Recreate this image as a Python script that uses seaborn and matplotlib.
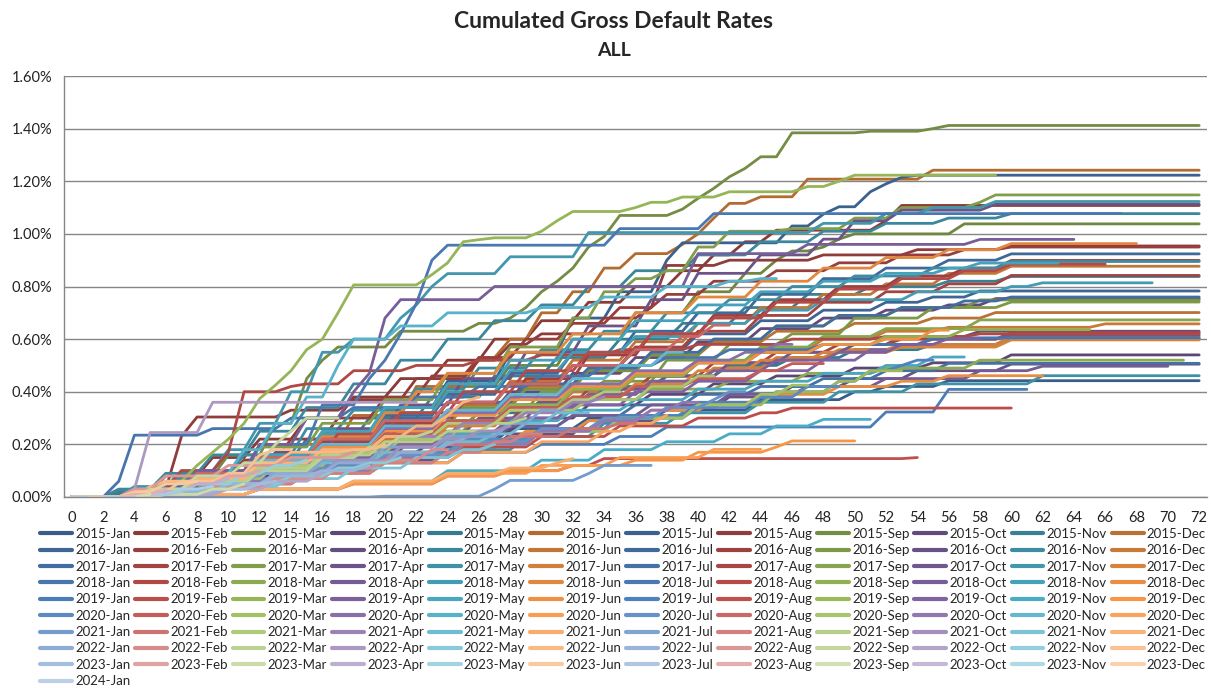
import numpy as np
import pandas as pd
import matplotlib
matplotlib.use("Agg")
import matplotlib.pyplot as plt
import matplotlib.colors as mcolors
from matplotlib.lines import Line2D
from matplotlib.ticker import FuncFormatter, MultipleLocator
import seaborn as sns

# cumulated gross default rate (%) per vintage, as (month, level) steps;
# the level holds until the next step, the last step marks the last observed month
years = [2015, 2016, 2017, 2018, 2019, 2020, 2021, 2022, 2023, 2024]
months = ["Jan", "Feb", "Mar", "Apr", "May", "Jun", "Jul", "Aug", "Sep", "Oct", "Nov", "Dec"]

vint_2015 = [
    [(0, 0), (4, 0.02), (7, 0.05), (11, 0.09), (15, 0.13), (19, 0.17), (23, 0.21), (28, 0.26), (33, 0.30), (38, 0.33), (44, 0.37), (50, 0.40), (52, 0.42), (56, 0.442), (72, 0.442)],
    [(0, 0), (3, 0.02), (6, 0.08), (9, 0.15), (12, 0.22), (15, 0.30), (18, 0.38), (21, 0.45), (24, 0.52), (27, 0.60), (30, 0.67), (33, 0.74), (36, 0.80), (39, 0.86), (41, 0.92), (43, 0.97), (45, 1.014), (52, 1.05), (53, 1.108), (72, 1.108)],
    [(0, 0), (4, 0.03), (8, 0.08), (12, 0.16), (16, 0.24), (20, 0.32), (24, 0.42), (28, 0.50), (32, 0.60), (36, 0.70), (40, 0.78), (43, 0.85), (45, 0.90), (46, 0.935), (48, 0.95), (49, 0.98), (50, 1.00), (57, 1.038), (72, 1.038)],
    [(0, 0), (5, 0.02), (9, 0.06), (13, 0.10), (17, 0.15), (21, 0.20), (25, 0.25), (29, 0.30), (33, 0.35), (37, 0.39), (41, 0.43), (45, 0.46), (50, 0.49), (55, 0.51), (60, 0.54), (72, 0.54)],
    [(0, 0), (3, 0.01), (6, 0.04), (10, 0.09), (14, 0.15), (18, 0.21), (22, 0.27), (26, 0.32), (30, 0.37), (34, 0.42), (38, 0.46), (42, 0.50), (46, 0.53), (50, 0.56), (55, 0.58), (60, 0.602), (72, 0.602)],
    [(0, 0), (4, 0.02), (6, 0.05), (10, 0.10), (14, 0.20), (18, 0.31), (22, 0.42), (26, 0.53), (28, 0.60), (30, 0.70), (32, 0.78), (34, 0.87), (36, 0.925), (39, 0.96), (40, 1.00), (41, 1.06), (42, 1.116), (44, 1.141), (47, 1.208), (55, 1.242), (72, 1.242)],
    [(0, 0), (4, 0.02), (8, 0.07), (12, 0.14), (16, 0.24), (20, 0.34), (24, 0.44), (28, 0.55), (32, 0.68), (35, 0.78), (38, 0.90), (39, 0.966), (46, 1.03), (48, 1.075), (49, 1.103), (51, 1.16), (52, 1.19), (53, 1.215), (54, 1.223), (72, 1.223)],
    [(0, 0), (5, 0.03), (7, 0.23), (8, 0.304), (14, 0.33), (18, 0.37), (22, 0.45), (26, 0.52), (28, 0.58), (30, 0.62), (34, 0.68), (37, 0.72), (38, 0.88), (42, 0.90), (48, 0.92), (54, 0.94), (60, 0.954), (72, 0.954)],
    [(0, 0), (4, 0.03), (7, 0.08), (10, 0.16), (13, 0.28), (15, 0.45), (16, 0.52), (17, 0.57), (21, 0.63), (26, 0.66), (28, 0.68), (29, 0.72), (30, 0.78), (31, 0.82), (32, 0.87), (33, 0.95), (34, 0.99), (35, 1.07), (39, 1.094), (40, 1.135), (41, 1.173), (42, 1.217), (43, 1.249), (44, 1.293), (46, 1.384), (51, 1.39), (55, 1.40), (56, 1.412), (72, 1.412)],
    [(0, 0), (4, 0.02), (8, 0.06), (12, 0.12), (16, 0.19), (20, 0.26), (24, 0.33), (28, 0.40), (32, 0.47), (36, 0.53), (40, 0.59), (44, 0.64), (48, 0.68), (52, 0.71), (56, 0.73), (59, 0.754), (72, 0.754)],
    [(0, 0), (3, 0.02), (7, 0.07), (11, 0.14), (15, 0.22), (19, 0.30), (23, 0.38), (27, 0.46), (31, 0.53), (35, 0.60), (39, 0.66), (43, 0.72), (47, 0.77), (51, 0.80), (56, 0.82), (60, 0.838), (72, 0.838)],
    [(0, 0), (5, 0.03), (9, 0.08), (13, 0.14), (17, 0.21), (21, 0.28), (25, 0.35), (29, 0.42), (33, 0.48), (37, 0.54), (41, 0.59), (45, 0.63), (50, 0.66), (55, 0.68), (59, 0.701), (72, 0.701)],
]

vint_2016 = [
    [(0, 0), (4, 0.03), (8, 0.09), (12, 0.15), (16, 0.22), (20, 0.29), (24, 0.36), (28, 0.43), (32, 0.50), (36, 0.56), (40, 0.62), (44, 0.67), (48, 0.71), (52, 0.74), (55, 0.76), (58, 0.783), (72, 0.783)],
    [(0, 0), (4, 0.02), (8, 0.08), (11, 0.14), (14, 0.22), (17, 0.30), (20, 0.38), (23, 0.46), (26, 0.53), (29, 0.60), (32, 0.66), (35, 0.72), (38, 0.77), (41, 0.82), (45, 0.86), (49, 0.89), (53, 0.92), (57, 0.94), (60, 0.950), (72, 0.950)],
    [(0, 0), (5, 0.03), (9, 0.08), (13, 0.14), (17, 0.20), (21, 0.27), (25, 0.34), (29, 0.41), (33, 0.48), (37, 0.54), (41, 0.60), (45, 0.65), (49, 0.69), (53, 0.72), (58, 0.749), (72, 0.749)],
    [(0, 0), (4, 0.02), (8, 0.06), (12, 0.11), (16, 0.17), (20, 0.23), (24, 0.29), (28, 0.35), (32, 0.41), (36, 0.46), (40, 0.51), (44, 0.55), (48, 0.58), (53, 0.61), (58, 0.630), (72, 0.630)],
    [(0, 0), (3, 0.03), (6, 0.09), (9, 0.16), (12, 0.25), (15, 0.34), (18, 0.43), (21, 0.52), (24, 0.60), (27, 0.67), (30, 0.73), (33, 0.80), (36, 0.86), (40, 0.92), (44, 0.97), (48, 1.01), (52, 1.04), (56, 1.06), (60, 1.077), (72, 1.077)],
    [(0, 0), (4, 0.02), (8, 0.07), (12, 0.13), (16, 0.20), (20, 0.28), (24, 0.36), (28, 0.44), (32, 0.52), (36, 0.59), (40, 0.66), (44, 0.72), (48, 0.77), (52, 0.81), (56, 0.85), (60, 0.877), (72, 0.877)],
    [(0, 0), (4, 0.03), (8, 0.08), (12, 0.15), (16, 0.23), (20, 0.31), (24, 0.39), (28, 0.47), (32, 0.55), (36, 0.63), (40, 0.70), (44, 0.77), (48, 0.83), (52, 0.87), (56, 0.90), (60, 0.924), (72, 0.924)],
    [(0, 0), (5, 0.02), (9, 0.07), (13, 0.13), (17, 0.20), (21, 0.28), (25, 0.36), (29, 0.45), (33, 0.54), (37, 0.62), (41, 0.69), (45, 0.75), (49, 0.80), (53, 0.84), (57, 0.87), (60, 0.899), (72, 0.899)],
    [(0, 0), (6, 0.04), (10, 0.10), (14, 0.12), (18, 0.22), (22, 0.25), (26, 0.33), (30, 0.40), (34, 0.44), (38, 0.52), (42, 0.58), (46, 0.62), (50, 0.68), (55, 0.72), (60, 0.741), (72, 0.741)],
    [(0, 0), (5, 0.02), (10, 0.05), (14, 0.09), (19, 0.14), (24, 0.19), (28, 0.24), (33, 0.29), (38, 0.34), (42, 0.38), (46, 0.42), (50, 0.45), (54, 0.48), (60, 0.505), (72, 0.505)],
    [(0, 0), (4, 0.03), (7, 0.08), (11, 0.16), (15, 0.26), (18, 0.33), (22, 0.41), (26, 0.49), (30, 0.56), (34, 0.63), (38, 0.70), (42, 0.75), (46, 0.80), (50, 0.84), (55, 0.87), (60, 0.895), (72, 0.895)],
    [(0, 0), (4, 0.01), (8, 0.05), (12, 0.10), (16, 0.16), (20, 0.22), (24, 0.28), (28, 0.34), (32, 0.40), (36, 0.46), (40, 0.51), (44, 0.56), (48, 0.60), (52, 0.63), (56, 0.645), (66, 0.658), (72, 0.658)],
]

vint_2017 = [
    [(0, 0), (5, 0.04), (9, 0.10), (13, 0.16), (17, 0.23), (21, 0.30), (25, 0.36), (29, 0.43), (33, 0.49), (37, 0.55), (41, 0.60), (45, 0.65), (49, 0.69), (53, 0.72), (57, 0.745), (60, 0.760), (72, 0.760)],
    [(0, 0), (4, 0.02), (8, 0.07), (12, 0.14), (16, 0.21), (20, 0.28), (24, 0.36), (28, 0.43), (32, 0.50), (36, 0.57), (40, 0.63), (44, 0.69), (48, 0.74), (52, 0.78), (56, 0.81), (60, 0.842), (72, 0.842)],
    [(0, 0), (4, 0.03), (8, 0.10), (12, 0.19), (16, 0.28), (20, 0.37), (24, 0.47), (28, 0.57), (32, 0.68), (34, 0.78), (36, 0.83), (38, 0.86), (40, 0.95), (42, 1.01), (46, 1.02), (50, 1.06), (53, 1.10), (58, 1.12), (59, 1.148), (72, 1.148)],
    [(0, 0), (5, 0.03), (9, 0.09), (13, 0.17), (17, 0.26), (21, 0.35), (25, 0.45), (29, 0.55), (33, 0.65), (37, 0.75), (40, 0.85), (44, 0.92), (48, 0.98), (50, 1.05), (53, 1.09), (59, 1.113), (72, 1.113)],
    [(0, 0), (4, 0.02), (9, 0.05), (14, 0.09), (19, 0.13), (24, 0.18), (29, 0.23), (34, 0.28), (39, 0.32), (44, 0.36), (49, 0.40), (54, 0.43), (62, 0.461), (72, 0.461)],
    [(0, 0), (5, 0.03), (9, 0.07), (13, 0.12), (17, 0.17), (21, 0.22), (25, 0.28), (29, 0.34), (33, 0.39), (37, 0.44), (41, 0.49), (45, 0.53), (49, 0.56), (53, 0.58), (60, 0.610), (72, 0.610)],
    [(0, 0), (4, 0.02), (8, 0.05), (12, 0.09), (16, 0.13), (20, 0.17), (24, 0.22), (28, 0.27), (32, 0.31), (36, 0.35), (40, 0.39), (44, 0.42), (48, 0.45), (52, 0.48), (56, 0.508), (72, 0.508)],
    [(0, 0), (5, 0.03), (9, 0.07), (13, 0.12), (17, 0.17), (21, 0.23), (25, 0.29), (29, 0.35), (33, 0.41), (37, 0.46), (41, 0.51), (45, 0.55), (49, 0.58), (53, 0.60), (60, 0.625), (72, 0.625)],
    [(0, 0), (4, 0.02), (8, 0.06), (12, 0.11), (16, 0.17), (20, 0.23), (24, 0.29), (28, 0.35), (32, 0.41), (36, 0.47), (40, 0.52), (44, 0.57), (48, 0.61), (52, 0.64), (58, 0.673), (72, 0.673)],
    [(0, 0), (5, 0.02), (10, 0.07), (14, 0.12), (18, 0.18), (22, 0.24), (26, 0.30), (30, 0.36), (34, 0.41), (38, 0.46), (42, 0.51), (46, 0.55), (50, 0.58), (55, 0.60), (60, 0.615), (72, 0.615)],
    [(0, 0), (4, 0.04), (7, 0.10), (10, 0.18), (12, 0.28), (14, 0.40), (16, 0.55), (18, 0.60), (21, 0.68), (22, 0.73), (23, 0.80), (24, 0.849), (28, 0.913), (33, 1.005), (48, 1.04), (52, 1.077), (55, 1.10), (59, 1.123), (72, 1.123)],
    [(0, 0), (4, 0.02), (8, 0.06), (12, 0.11), (16, 0.16), (20, 0.21), (24, 0.27), (28, 0.33), (32, 0.38), (36, 0.43), (40, 0.48), (44, 0.52), (48, 0.55), (53, 0.57), (60, 0.597), (72, 0.597)],
]

vint_2018 = [
    [(0, 0), (3, 0.06), (4, 0.235), (9, 0.26), (14, 0.30), (18, 0.34), (22, 0.38), (26, 0.42), (30, 0.46), (34, 0.50), (38, 0.53), (42, 0.56), (48, 0.58), (55, 0.605), (72, 0.605)],
    [(0, 0), (4, 0.03), (7, 0.10), (10, 0.17), (11, 0.40), (14, 0.42), (15, 0.43), (18, 0.48), (22, 0.50), (26, 0.52), (30, 0.54), (35, 0.56), (40, 0.58), (46, 0.60), (52, 0.61), (58, 0.620), (72, 0.620)],
    [(0, 0), (5, 0.03), (9, 0.08), (13, 0.13), (17, 0.18), (21, 0.23), (25, 0.28), (29, 0.33), (33, 0.37), (37, 0.41), (42, 0.44), (47, 0.47), (52, 0.49), (58, 0.52), (71, 0.52)],
    [(0, 0), (4, 0.02), (8, 0.06), (12, 0.10), (16, 0.14), (20, 0.19), (24, 0.23), (28, 0.27), (32, 0.31), (37, 0.35), (42, 0.39), (47, 0.42), (52, 0.45), (58, 0.48), (62, 0.497), (70, 0.497)],
    [(0, 0), (4, 0.03), (8, 0.09), (12, 0.16), (16, 0.24), (20, 0.32), (24, 0.40), (28, 0.48), (32, 0.55), (36, 0.61), (40, 0.66), (44, 0.71), (48, 0.75), (54, 0.78), (60, 0.80), (62, 0.814), (69, 0.814)],
    [(0, 0), (4, 0.02), (8, 0.08), (12, 0.15), (16, 0.23), (20, 0.32), (22, 0.40), (24, 0.47), (28, 0.55), (32, 0.62), (36, 0.70), (40, 0.76), (44, 0.82), (48, 0.87), (52, 0.91), (56, 0.94), (60, 0.963), (68, 0.963)],
    [(0, 0), (4, 0.02), (8, 0.08), (12, 0.20), (16, 0.35), (19, 0.45), (20, 0.52), (21, 0.62), (22, 0.735), (23, 0.90), (24, 0.957), (35, 1.02), (41, 1.077), (67, 1.077)],
    [(0, 0), (5, 0.03), (9, 0.09), (13, 0.16), (17, 0.24), (21, 0.32), (25, 0.40), (29, 0.48), (33, 0.55), (37, 0.62), (41, 0.68), (45, 0.74), (49, 0.79), (53, 0.83), (57, 0.86), (60, 0.885), (66, 0.885)],
    [(0, 0), (4, 0.02), (8, 0.06), (12, 0.11), (16, 0.17), (20, 0.23), (24, 0.29), (28, 0.35), (32, 0.41), (36, 0.46), (40, 0.51), (44, 0.55), (48, 0.58), (52, 0.61), (57, 0.636), (65, 0.636)],
    [(0, 0), (4, 0.03), (8, 0.10), (12, 0.20), (15, 0.30), (18, 0.40), (19, 0.47), (20, 0.68), (21, 0.75), (27, 0.80), (40, 0.925), (47, 0.96), (58, 0.979), (64, 0.979)],
    [(0, 0), (4, 0.03), (8, 0.08), (12, 0.16), (16, 0.25), (20, 0.34), (24, 0.43), (28, 0.52), (32, 0.60), (36, 0.67), (40, 0.73), (44, 0.78), (48, 0.82), (52, 0.85), (56, 0.87), (58, 0.889), (63, 0.889)],
    [(0, 0), (5, 0.02), (9, 0.05), (13, 0.09), (17, 0.13), (21, 0.17), (25, 0.21), (29, 0.25), (33, 0.29), (37, 0.33), (41, 0.36), (45, 0.39), (49, 0.42), (53, 0.44), (56, 0.461), (62, 0.461)],
]

vint_2019 = [
    [(0, 0), (5, 0.02), (10, 0.05), (15, 0.09), (20, 0.13), (25, 0.17), (30, 0.20), (35, 0.23), (38, 0.266), (52, 0.323), (56, 0.409), (61, 0.409)],
    [(0, 0), (5, 0.02), (10, 0.06), (15, 0.10), (20, 0.15), (25, 0.19), (30, 0.23), (35, 0.27), (40, 0.30), (44, 0.32), (46, 0.338), (60, 0.338)],
    [(0, 0), (4, 0.02), (6, 0.06), (8, 0.12), (9, 0.17), (10, 0.22), (11, 0.28), (12, 0.374), (13, 0.425), (14, 0.48), (15, 0.56), (16, 0.60), (17, 0.70), (18, 0.806), (23, 0.845), (24, 0.89), (25, 0.97), (26, 0.978), (27, 0.985), (30, 1.01), (31, 1.05), (32, 1.085), (36, 1.10), (37, 1.12), (39, 1.14), (42, 1.16), (47, 1.18), (49, 1.20), (50, 1.223), (59, 1.223)],
    [(0, 0), (5, 0.02), (9, 0.07), (13, 0.12), (17, 0.17), (21, 0.22), (25, 0.28), (29, 0.34), (33, 0.39), (37, 0.44), (41, 0.48), (45, 0.52), (49, 0.55), (53, 0.58), (56, 0.602), (58, 0.602)],
    [(0, 0), (4, 0.02), (8, 0.06), (12, 0.10), (16, 0.15), (20, 0.19), (24, 0.24), (28, 0.29), (32, 0.33), (36, 0.37), (40, 0.41), (44, 0.44), (48, 0.47), (52, 0.50), (55, 0.532), (57, 0.532)],
    [(0, 0), (4, 0.03), (8, 0.08), (12, 0.13), (16, 0.19), (20, 0.25), (24, 0.31), (28, 0.37), (32, 0.42), (36, 0.47), (40, 0.51), (44, 0.55), (48, 0.58), (52, 0.60), (55, 0.634), (56, 0.634)],
    [(0, 0), (5, 0.02), (10, 0.06), (15, 0.11), (20, 0.16), (25, 0.21), (30, 0.26), (35, 0.31), (40, 0.36), (45, 0.40), (49, 0.44), (51, 0.48), (53, 0.50), (54, 0.520), (55, 0.520)],
    [(0, 0), (6, 0.01), (12, 0.03), (18, 0.05), (24, 0.08), (28, 0.10), (32, 0.12), (34, 0.146), (54, 0.150)],
    [(0, 0), (5, 0.02), (10, 0.06), (15, 0.10), (20, 0.15), (25, 0.20), (30, 0.25), (35, 0.30), (40, 0.35), (45, 0.40), (49, 0.44), (51, 0.48), (53, 0.48)],
    [(0, 0), (4, 0.02), (8, 0.06), (12, 0.10), (16, 0.15), (20, 0.20), (24, 0.25), (28, 0.30), (32, 0.35), (36, 0.40), (40, 0.44), (44, 0.48), (48, 0.52), (51, 0.560), (52, 0.560)],
    [(0, 0), (6, 0.01), (12, 0.03), (18, 0.06), (24, 0.10), (30, 0.14), (34, 0.18), (38, 0.21), (42, 0.24), (45, 0.27), (48, 0.295), (51, 0.295)],
    [(0, 0), (6, 0.01), (12, 0.03), (18, 0.05), (24, 0.08), (28, 0.10), (32, 0.12), (36, 0.14), (40, 0.17), (45, 0.19), (46, 0.213), (50, 0.213)],
]

vint_2020 = [
    [(0, 0), (5, 0.03), (10, 0.07), (15, 0.12), (20, 0.17), (25, 0.22), (30, 0.26), (35, 0.30), (40, 0.34), (44, 0.38), (47, 0.42), (49, 0.42)],
    [(0, 0), (4, 0.03), (8, 0.08), (12, 0.13), (16, 0.18), (20, 0.24), (24, 0.29), (28, 0.34), (32, 0.38), (36, 0.42), (40, 0.45), (44, 0.48), (46, 0.507), (48, 0.507)],
    [(0, 0), (5, 0.02), (10, 0.06), (15, 0.10), (20, 0.15), (25, 0.20), (30, 0.25), (35, 0.30), (40, 0.35), (44, 0.39), (46, 0.425), (47, 0.425)],
    [(0, 0), (4, 0.03), (8, 0.08), (12, 0.14), (16, 0.20), (20, 0.26), (24, 0.32), (28, 0.38), (32, 0.43), (36, 0.48), (40, 0.52), (43, 0.55), (45, 0.58), (46, 0.58)],
    [(0, 0), (4, 0.03), (8, 0.09), (11, 0.18), (13, 0.28), (15, 0.38), (17, 0.50), (18, 0.60), (21, 0.65), (24, 0.70), (30, 0.72), (34, 0.76), (38, 0.80), (42, 0.82), (44, 0.830), (45, 0.830)],
    [(0, 0), (6, 0.01), (12, 0.03), (18, 0.06), (24, 0.09), (30, 0.12), (35, 0.15), (41, 0.181), (44, 0.181)],
    [(0, 0), (5, 0.02), (10, 0.06), (15, 0.11), (20, 0.16), (25, 0.21), (30, 0.26), (34, 0.30), (38, 0.34), (41, 0.37), (42, 0.40), (43, 0.40)],
    [(0, 0), (4, 0.03), (8, 0.09), (12, 0.15), (16, 0.22), (20, 0.29), (24, 0.36), (28, 0.43), (32, 0.50), (36, 0.56), (39, 0.61), (41, 0.653), (42, 0.653)],
    [(0, 0), (5, 0.03), (9, 0.07), (13, 0.12), (17, 0.17), (21, 0.22), (25, 0.28), (29, 0.33), (33, 0.37), (37, 0.42), (40, 0.46), (41, 0.46)],
    [(0, 0), (5, 0.02), (10, 0.06), (15, 0.10), (20, 0.15), (25, 0.20), (30, 0.25), (34, 0.29), (37, 0.33), (39, 0.36), (40, 0.36)],
    [(0, 0), (4, 0.03), (8, 0.08), (12, 0.14), (16, 0.20), (20, 0.27), (24, 0.33), (28, 0.39), (32, 0.45), (35, 0.50), (38, 0.55), (39, 0.55)],
    [(0, 0), (5, 0.02), (10, 0.05), (15, 0.09), (20, 0.13), (25, 0.17), (30, 0.21), (34, 0.25), (36, 0.28), (38, 0.311)],
]

vint_2021 = [
    [(0, 0), (20, 0.003), (27, 0.03), (28, 0.063), (33, 0.089), (34, 0.12), (37, 0.12)],
    [(0, 0), (4, 0.02), (8, 0.05), (12, 0.09), (16, 0.13), (20, 0.17), (24, 0.20), (28, 0.23), (32, 0.26), (35, 0.28), (36, 0.28)],
    [(0, 0), (4, 0.02), (8, 0.07), (12, 0.12), (16, 0.18), (20, 0.23), (24, 0.28), (28, 0.33), (32, 0.37), (34, 0.40), (35, 0.40)],
    [(0, 0), (5, 0.03), (9, 0.08), (13, 0.13), (17, 0.18), (21, 0.23), (25, 0.28), (29, 0.32), (32, 0.36), (34, 0.38)],
    [(0, 0), (4, 0.02), (8, 0.05), (12, 0.09), (16, 0.13), (20, 0.17), (24, 0.21), (27, 0.24), (29, 0.28), (31, 0.32), (33, 0.32)],
    [(0, 0), (6, 0.01), (12, 0.03), (18, 0.06), (24, 0.09), (28, 0.11), (31, 0.13), (32, 0.146)],
    [(0, 0), (4, 0.02), (8, 0.05), (12, 0.09), (16, 0.14), (20, 0.19), (24, 0.23), (28, 0.28), (30, 0.33), (31, 0.33)],
    [(0, 0), (5, 0.02), (10, 0.05), (15, 0.09), (20, 0.13), (24, 0.17), (27, 0.21), (29, 0.24), (30, 0.24)],
    [(0, 0), (4, 0.02), (8, 0.06), (12, 0.11), (16, 0.16), (20, 0.21), (24, 0.25), (27, 0.28), (29, 0.30)],
    [(0, 0), (5, 0.02), (9, 0.05), (13, 0.09), (17, 0.14), (21, 0.19), (24, 0.22), (26, 0.25), (28, 0.27)],
    [(0, 0), (6, 0.01), (10, 0.04), (14, 0.07), (18, 0.11), (22, 0.15), (25, 0.18), (27, 0.20)],
    [(0, 0), (4, 0.02), (8, 0.07), (12, 0.13), (16, 0.18), (20, 0.23), (22, 0.27), (24, 0.31), (25, 0.36), (26, 0.38)],
]

vint_2022 = [
    [(0, 0), (5, 0.02), (9, 0.05), (13, 0.09), (17, 0.13), (21, 0.17), (24, 0.20), (25, 0.22)],
    [(0, 0), (5, 0.01), (9, 0.04), (13, 0.07), (17, 0.11), (20, 0.14), (23, 0.18), (24, 0.18)],
    [(0, 0), (4, 0.02), (8, 0.05), (12, 0.10), (16, 0.15), (19, 0.19), (21, 0.23), (23, 0.25)],
    [(0, 0), (4, 0.03), (5, 0.245), (9, 0.36), (22, 0.36)],
    [(0, 0), (6, 0.02), (10, 0.05), (14, 0.08), (17, 0.11), (19, 0.13), (21, 0.15)],
    [(0, 0), (5, 0.04), (6, 0.06), (10, 0.08), (12, 0.13), (14, 0.17), (18, 0.18), (20, 0.20)],
    [(0, 0), (6, 0.02), (10, 0.05), (13, 0.08), (16, 0.10), (19, 0.12)],
    [(0, 0), (4, 0.03), (6, 0.08), (10, 0.12), (14, 0.15), (18, 0.17)],
    [(0, 0), (5, 0.03), (8, 0.08), (11, 0.13), (13, 0.20), (14, 0.25), (15, 0.30), (17, 0.30)],
    [(0, 0), (6, 0.01), (10, 0.03), (13, 0.06), (16, 0.09)],
    [(0, 0), (5, 0.02), (8, 0.05), (11, 0.09), (13, 0.12), (15, 0.14)],
    [(0, 0), (5, 0.02), (7, 0.06), (10, 0.09), (12, 0.16), (13, 0.18), (14, 0.18)],
]

vint_2023 = [
    [(0, 0), (6, 0.01), (9, 0.03), (12, 0.05), (13, 0.06)],
    [(0, 0), (5, 0.02), (8, 0.05), (10, 0.08), (12, 0.10)],
    [(0, 0), (6, 0.01), (9, 0.03), (11, 0.05)],
    [(0, 0), (5, 0.02), (8, 0.05), (10, 0.07)],
    [(0, 0), (5, 0.01), (7, 0.03), (9, 0.04)],
    [(0, 0), (4, 0.02), (6, 0.05), (8, 0.06)],
    [(0, 0), (5, 0.01), (7, 0.02)],
    [(0, 0), (4, 0.01), (6, 0.03)],
    [(0, 0), (5, 0.01)],
    [(0, 0), (4, 0.0)],
    [(0, 0), (3, 0.0)],
    [(0, 0), (2, 0.0)],
]

vint_2024 = [
    [(0, 0), (1, 0.0)],
]

all_vintages = vint_2015 + vint_2016 + vint_2017 + vint_2018 + vint_2019 + vint_2020 + vint_2021 + vint_2022 + vint_2023 + vint_2024
labels = [f"{y}-{m}" for y in years for m in months][:len(all_vintages)]


def expand(knots):
    end = knots[-1][0]
    out = []
    j = 0
    for m in range(end + 1):
        while j + 1 < len(knots) and knots[j + 1][0] <= m:
            j += 1
        out.append(knots[j][1])
    return out


rows = []
for lab, knots in zip(labels, all_vintages):
    for m, v in enumerate(expand(knots)):
        rows.append((lab, m, v))
df = pd.DataFrame(rows, columns=["Vintage", "Month", "Rate"])

# Excel 2007 style palette: 6 accents, darker first, lighter later
accents = ["#4F81BD", "#C0504D", "#9BBB59", "#8064A2", "#4BACC6", "#F79646"]
palette = {}
for i, lab in enumerate(labels):
    base = np.array(mcolors.to_rgb(accents[i % 6]))
    r = i // 6
    if r < 9:
        c = base * (0.72 + 0.28 * r / 9)
    else:
        c = base + (1 - base) * 0.62 * (r - 9) / 9
    palette[lab] = tuple(np.clip(c, 0, 1))

sns.set_theme(style="white")
plt.rcParams["font.family"] = ["Lato", "DejaVu Sans"]

fig = plt.figure(figsize=(12.11, 6.88), dpi=100)
ax = fig.add_axes([64 / 1211, 1 - 497 / 688, (1207 - 64) / 1211, (497 - 76) / 688])

sns.lineplot(data=df, x="Month", y="Rate", hue="Vintage", hue_order=labels,
             palette=palette, linewidth=2.0, estimator=None, legend=False, ax=ax)

ax.set_xlim(-0.5, 72.5)
ax.set_ylim(0, 1.6)
ax.yaxis.set_major_locator(MultipleLocator(0.2))
ax.yaxis.set_major_formatter(FuncFormatter(lambda v, p: f"{v:.2f}%"))
ax.set_xticks(range(0, 73, 2))
ax.set_xticks(np.arange(-0.5, 73, 1), minor=True)
ax.tick_params(axis="x", which="major", length=0, pad=10, labelsize=10.5, colors="#222222")
ax.tick_params(axis="x", which="minor", length=5, width=1, color="#868686", direction="out")
ax.tick_params(axis="y", which="major", length=5, width=1, color="#868686", direction="out",
               labelsize=10.5, labelcolor="#222222")
ax.grid(axis="y", color="#868686", linewidth=1)
ax.grid(axis="x", visible=False)
ax.set_axisbelow(True)
for s in ["top", "right"]:
    ax.spines[s].set_visible(False)
for s in ["left", "bottom"]:
    ax.spines[s].set_color("#868686")
    ax.spines[s].set_linewidth(1)
ax.set_xlabel("")
ax.set_ylabel("")

fig.text(0.507, 1 - 22 / 688, "Cumulated Gross Default Rates", ha="center", va="center",
         fontsize=16.5, fontweight="bold")
fig.text(0.507, 1 - 50 / 688, "ALL", ha="center", va="center", fontsize=14, fontweight="bold")

# legend laid out row by row like Excel (matplotlib fills column by column)
ncol = 12
handles = {lab: Line2D([], [], color=palette[lab], linewidth=3) for lab in labels}
order = [labels[r * ncol + c] for c in range(ncol) for r in range(10) if r * ncol + c < len(labels)]
fig.legend([handles[l] for l in order], order, ncol=ncol, loc="upper left",
           bbox_to_anchor=(40 / 1211, 1 - 528 / 688, (1211 - 45) / 1211, 0.0), mode="expand",
           frameon=False, fontsize=9.5, handlelength=2.4, handletextpad=0.25,
           labelspacing=0.33, borderaxespad=0, borderpad=0, columnspacing=0.5)

fig.savefig("out.png", dpi=100)
